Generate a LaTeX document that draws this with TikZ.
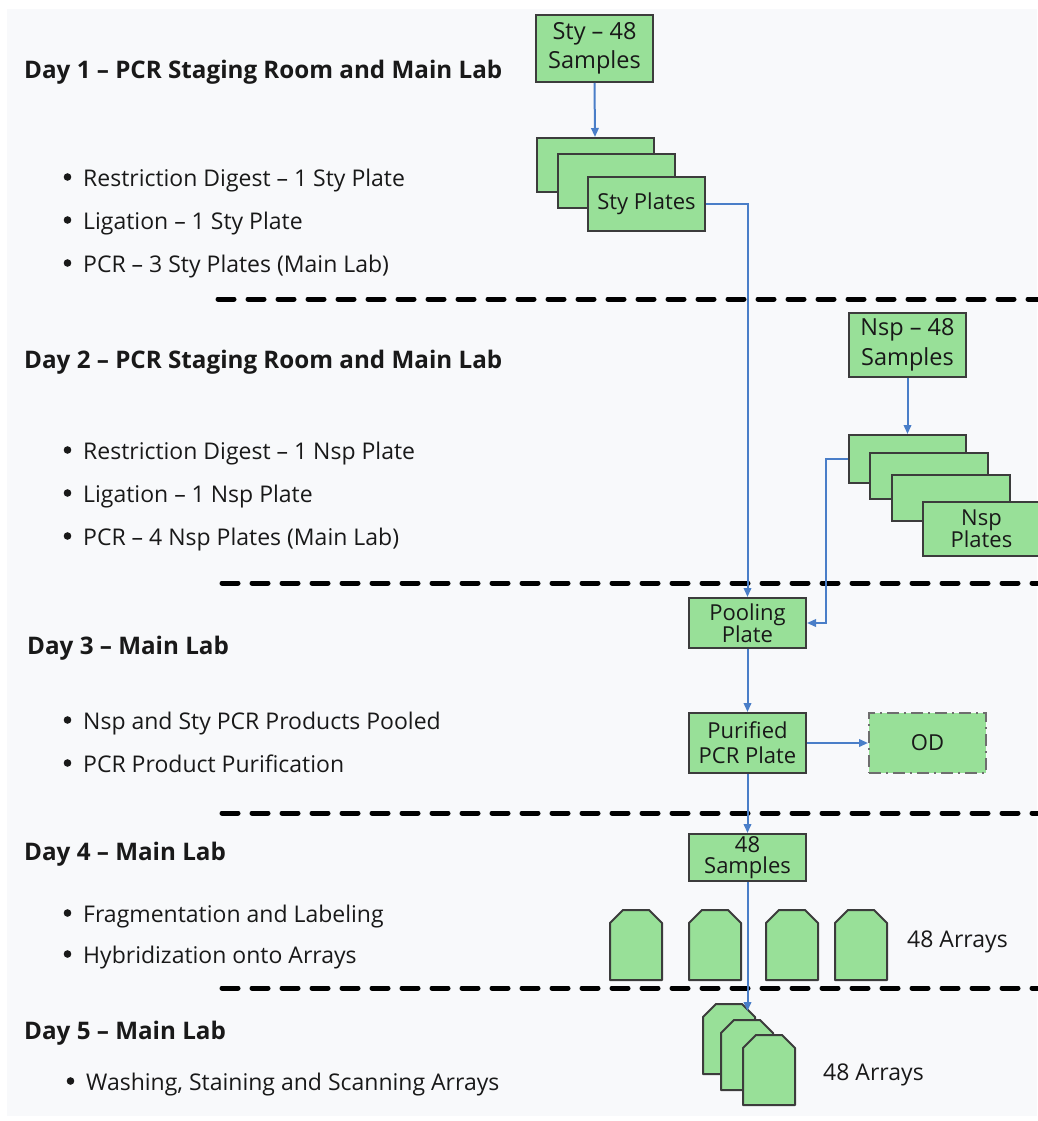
\documentclass[tikz,border=0pt]{standalone}
\usepackage{fontspec}
\setmainfont{Open Sans}
\usetikzlibrary{arrows.meta}
\definecolor{bg}{RGB}{248,249,251}
\definecolor{boxfill}{RGB}{152,224,152}
\definecolor{boxline}{RGB}{60,60,60}
\definecolor{flowblue}{RGB}{74,126,200}
\definecolor{txt}{RGB}{25,25,25}
\definecolor{odline}{RGB}{110,110,110}
\begin{document}
\begin{tikzpicture}[x=1pt,y=-1pt,
  box/.style={draw=boxline, line width=2pt, fill=boxfill, text=txt, inner sep=0pt, align=center},
  boxfont/.style={font=\fontsize{22}{#1}\selectfont},
  bigboxfont/.style={font=\fontsize{23.5}{#1}\selectfont},
  flow/.style={draw=flowblue, line width=2pt, -{Triangle[length=9pt,width=7.5pt]}},
  sepline/.style={line width=5pt, dash pattern=on 16pt off 14pt, line cap=round},
  header/.style={anchor=base west, font=\fontsize{24.2}{28}\selectfont\bfseries, text=txt, inner sep=0pt},
  item/.style={anchor=base west, font=\fontsize{23}{28}\selectfont, text=txt, inner sep=0pt},
  bulletdot/.style={fill=txt},
  arrayshape/.style={draw=boxline, line width=2pt, fill=boxfill, line join=round},
  arrlabel/.style={anchor=base west, font=\fontsize{23}{28}\selectfont, text=txt, inner sep=0pt}
]
\useasboundingbox (0,0) rectangle (1037,1121);
\fill[white] (0,0) rectangle (1037,1121);
\fill[bg] (7,9) rectangle (1037,1116);

% separators
\draw[sepline] (218,299) -- (1040,299);
\draw[sepline] (222,583) -- (1040,583);
\draw[sepline] (222,813) -- (1040,813);
\draw[sepline] (222,988) -- (1040,988);

% left texts
\node[header] (h1) at (24,79) {Day 1 – PCR Staging Room and Main Lab};
\node[item] (i11) at (83,186) {Restriction Digest – 1 Sty Plate};
\node[item] (i12) at (83,229) {Ligation – 1 Sty Plate};
\node[item] (i13) at (83,272) {PCR – 3 Sty Plates (Main Lab)};

\node[header] (h2) at (24,368) {Day 2 – PCR Staging Room and Main Lab};
\node[item] (i21) at (83,459) {Restriction Digest – 1 Nsp Plate};
\node[item] (i22) at (83,502) {Ligation – 1 Nsp Plate};
\node[item] (i23) at (83,545) {PCR – 4 Nsp Plates (Main Lab)};

\node[header] (h3) at (27,654) {Day 3 – Main Lab};
\node[item] (i31) at (83,729) {Nsp and Sty PCR Products Pooled};
\node[item] (i32) at (83,772) {PCR Product Purification};

\node[header] (h4) at (24,860) {Day 4 – Main Lab};
\node[item] (i41) at (83,922) {Fragmentation and Labeling};
\node[item] (i42) at (83,963) {Hybridization onto Arrays};

\node[header] (h5) at (24,1039) {Day 5 – Main Lab};
\node[item] (i51) at (86,1090) {Washing, Staining and Scanning Arrays};

% bullets
\foreach \by in {186,229,272,459,502,545,729,772,922,963}{
  \fill[bulletdot] (67.5,\by-9) circle (3.8);
}
\fill[bulletdot] (70.5,1081) circle (3.8);

% Sty
\node[box, bigboxfont=29, minimum width=117pt, minimum height=67pt] (sty48) at (594.5,48.5) {Sty – 48\\Samples};
\node[box, minimum width=117pt, minimum height=54pt] (sty1) at (595,165) {};
\node[box, minimum width=117pt, minimum height=54pt] (sty2) at (616.5,181) {};
\node[box, boxfont=26, minimum width=117pt, minimum height=54pt] (sty3) at (646.5,203.5) {Sty Plates};

% Nsp
\node[box, bigboxfont=30, minimum width=117pt, minimum height=64pt] (nsp48) at (907.5,345) {Nsp – 48\\Samples};
\node[box, minimum width=117pt, minimum height=48pt] (nsp1) at (907.5,459) {};
\node[box, minimum width=118pt, minimum height=46pt] (nsp2) at (929,476) {};
\node[box, minimum width=118pt, minimum height=46pt] (nsp3) at (951,498) {};
\node[box, boxfont=22, minimum width=117pt, minimum height=54pt] (nsp4) at (981.5,529) {Nsp\\Plates};

% Day 3
\node[box, boxfont=22, minimum width=117pt, minimum height=50pt] (pool) at (747.5,623) {Pooling\\Plate};
\node[box, boxfont=25, minimum width=117pt, minimum height=60pt] (pur) at (747.5,743) {Purified\\PCR Plate};
\node[box, boxfont=25, draw=odline, dash pattern=on 12pt off 5pt on 2pt off 5pt, minimum width=117pt, minimum height=60pt] (od) at (927.5,743) {OD};

% Day 4
\node[box, boxfont=21, minimum width=117pt, minimum height=47pt] (samples) at (747.5,857.5) {48\\Samples};

\foreach \ax in {610,689,766,835}{
  \draw[arrayshape] (\ax,923) -- (\ax+13,910) -- (\ax+39,910) -- (\ax+52,923) -- (\ax+52,980) -- (\ax,980) -- cycle;
}
\node[arrlabel] (lab4) at (907,947) {48 Arrays};

% Day 5
\foreach \ax/\ay in {703/1004,721/1020,743/1035}{
  \draw[arrayshape] (\ax,\ay+13) -- (\ax+13,\ay) -- (\ax+39,\ay) -- (\ax+52,\ay+13) -- (\ax+52,\ay+70) -- (\ax,\ay+70) -- cycle;
}
\node[arrlabel] (lab5) at (823,1080) {48 Arrays};

% connectors
\draw[flow] (sty48.south) -- (sty1.north);
\draw[flow] (sty3.east) -| (pool.north);
\draw[flow] (nsp48.south) -- (nsp1.north);
\draw[flow] (nsp1.west) -- ++(-22,0) |- (pool.east);
\draw[flow] (pool) -- (pur);
\draw[flow] (pur) -- (od);
\draw[flow] (pur) -- (samples);
\coordinate (d5in) at (747.5,1011);
\draw[flow] (samples.south) -- (d5in);
\end{tikzpicture}
\end{document}
